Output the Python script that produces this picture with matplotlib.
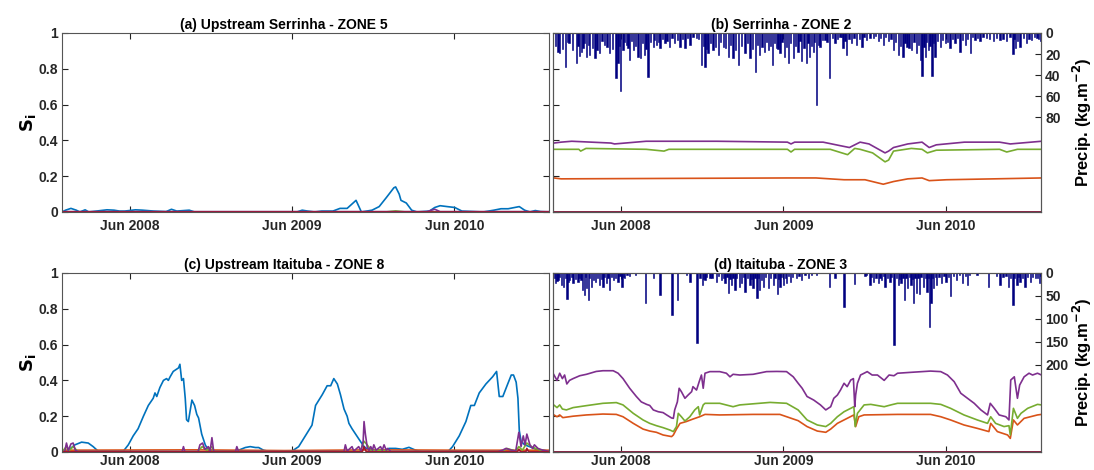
import numpy as np
import matplotlib.pyplot as plt
import matplotlib.dates as mdates

plt.rcParams['font.family'] = ['Liberation Sans', 'DejaVu Sans']
plt.rcParams['font.weight'] = 'bold'
plt.rcParams['font.size'] = 10

## colours (MATLAB default order)
col_blue = '#0072BD'
col_orange = '#D95319'
col_green = '#77AC30'
col_purple = '#7E2F8E'
col_red = '#A2142F'
col_navy = '#000080'

start = np.datetime64('2008-01-01')
end = np.datetime64('2010-12-31')

def d(days):
    return start + np.array(days, dtype='timedelta64[D]')

## x values are days since 2008-01-01

## (a) Upstream Serrinha - ZONE 5
a_blue_days = [0, 8, 20, 32, 40, 52, 60, 101, 117, 129, 141, 165, 181, 206, 234, 246, 258, 286, 298, 318,
               528, 540, 552, 568, 584, 609, 625, 641, 661, 673, 697, 713, 729, 746, 750, 758, 762, 774, 786, 798,
               826, 838, 850, 866, 883, 899, 947, 971, 987, 1003, 1028, 1040, 1052, 1064, 1076, 1096]
a_blue = [0.0, 0.01, 0.02, 0.01, 0.0, 0.012, 0.0, 0.012, 0.01, 0.005, 0.005, 0.012, 0.01, 0.005, 0.002, 0.015, 0.005, 0.01, 0.0, 0.0,
          0.0, 0.01, 0.005, 0.0, 0.005, 0.005, 0.02, 0.02, 0.065, 0.0, 0.01, 0.03, 0.08, 0.135, 0.14, 0.1, 0.065, 0.05, 0.01, 0.0,
          0.005, 0.025, 0.035, 0.03, 0.025, 0.005, 0.0, 0.01, 0.018, 0.018, 0.03, 0.01, 0.0, 0.008, 0.002, 0.0]
a_orange_days = [0, 1096]
a_orange = [0.002, 0.002]
a_green_days = [0, 730, 750, 770, 1096]
a_green = [0.001, 0.001, 0.006, 0.001, 0.001]
a_purple_days = [0, 820, 838, 850, 1096]
a_purple = [0.002, 0.002, 0.015, 0.002, 0.002]
a_red_days = [0, 1096]
a_red = [0.0, 0.0]

## (b) Serrinha - ZONE 2
b_purple_days = [2, 18, 42, 130, 138, 209, 368, 526, 534, 542, 606, 645, 665, 689, 709, 745, 753, 764, 796, 828,
                 836, 844, 860, 923, 1002, 1026, 1096]
b_purple = [0.385, 0.39, 0.395, 0.385, 0.38, 0.395, 0.395, 0.39, 0.38, 0.39, 0.39, 0.37, 0.36, 0.39, 0.38, 0.33, 0.34, 0.36, 0.38, 0.39,
            0.375, 0.36, 0.375, 0.39, 0.39, 0.38, 0.395]
b_green_days = [2, 58, 62, 74, 209, 249, 260, 526, 534, 542, 622, 661, 677, 689, 717, 745, 753, 764, 804, 828,
                840, 860, 1002, 1018, 1042, 1096]
b_green = [0.35, 0.35, 0.34, 0.355, 0.35, 0.34, 0.35, 0.35, 0.335, 0.35, 0.35, 0.32, 0.355, 0.35, 0.33, 0.28, 0.29, 0.34, 0.355, 0.35,
           0.33, 0.345, 0.35, 0.335, 0.35, 0.35]
b_orange_days = [2, 18, 526, 590, 653, 700, 741, 764, 796, 828, 844, 883, 1096]
b_orange = [0.19, 0.185, 0.19, 0.19, 0.18, 0.18, 0.155, 0.17, 0.185, 0.19, 0.175, 0.18, 0.19]
b_blue_days = [0, 1096]
b_blue = [0.002, 0.002]
b_red_days = [0, 1096]
b_red = [0.0, 0.0]

b_rain_days = [11, 15, 28, 36, 52, 60, 67, 75, 79, 82, 94, 105, 116, 127, 141, 146, 152, 157, 165, 172,
               180, 191, 196, 206, 213, 225, 232, 240, 251, 262, 273, 285, 296, 307, 322, 333, 341, 348, 359, 371,
               382, 393, 404, 416, 431, 442, 455, 464, 475, 483, 493, 502, 509, 520, 528, 539, 550, 558, 569, 576,
               584, 591, 599, 610, 621, 633, 644, 651, 659, 670, 681, 693, 704, 719, 730, 741, 752, 764, 775, 785,
               794, 805, 816, 824, 828, 835, 842, 850, 857, 869, 880, 891, 902, 913, 925, 936, 947, 958, 973, 988,
               1003, 1018, 1032, 1037, 1048, 1063, 1074, 1086, 1095]
b_rain = [17.7, 19, 32.6, 10, 28.8, 22, 14.6, 22.5, 11, 21, 24, 19, 11, 19, 43, 28.8, 55, 16, 11, 25.6,
          16, 22.5, 24, 21, 41.5, 13, 11, 14.6, 10, 13, 10, 13, 14.6, 11, 5, 30.4, 32.6, 19, 16, 21,
          13, 22.5, 24, 30.4, 19, 24, 36.7, 21, 17.7, 16, 30.4, 14.6, 19, 22.5, 28.8, 24, 17.7, 27, 28.8, 22.5,
          17.7, 68, 13, 7, 42.4, 10, 3.5, 14.6, 21, 10, 11, 13, 7, 5, 8, 11, 8, 16, 21, 22.5,
          13, 16, 19, 25.6, 40.8, 22.5, 16, 40.8, 22.5, 13, 10, 14.6, 10, 17.7, 11, 19, 7, 8, 5, 8,
          7, 8, 20, 14.6, 13, 10, 7, 5, 8]
# smaller days between the peaks (day, mm)
b_rain_small = [(5, 12), (21, 15), (32, 9), (44, 16), (56, 12), (64, 18), (71, 10), (88, 14), (99, 16), (110, 8),
                (121, 13), (134, 15), (149, 12), (161, 9), (168, 14), (176, 8), (185, 12), (201, 10), (209, 15), (219, 9),
                (228, 7), (236, 9), (245, 6), (256, 8), (267, 5), (279, 7), (290, 6), (301, 5), (314, 4), (327, 6),
                (337, 12), (345, 15), (353, 10), (365, 13), (376, 9), (387, 14), (398, 11), (410, 16), (423, 12), (436, 10),
                (448, 15), (459, 11), (469, 13), (479, 9), (488, 12), (497, 10), (505, 15), (514, 9), (524, 13), (533, 10),
                (544, 12), (554, 8), (563, 14), (572, 10), (580, 12), (587, 9), (595, 11), (604, 7), (615, 9), (627, 5),
                (638, 6), (647, 4), (655, 8), (664, 6), (675, 5), (687, 6), (698, 4), (711, 5), (724, 3), (735, 5),
                (746, 4), (758, 6), (769, 9), (780, 12), (790, 10), (799, 14), (810, 9), (820, 11), (832, 13), (838, 9),
                (846, 12), (853, 10), (863, 8), (874, 7), (885, 9), (896, 6), (907, 5), (919, 7), (930, 6), (941, 4),
                (952, 5), (965, 4), (980, 6), (995, 5), (1010, 6), (1025, 4), (1034, 6), (1042, 8), (1055, 5), (1068, 6),
                (1080, 4), (1090, 6)]

## (c) Upstream Itaituba - ZONE 8
c_blue_days = [0, 14, 29, 44, 59, 70, 81, 138, 149, 160, 171, 183, 194, 205, 209, 213, 220,
               228, 235, 239, 243, 250, 262, 265, 269, 273, 277, 280, 284, 288, 292, 298, 303, 307, 314, 322, 329,
               344, 382, 397, 412, 423, 435, 442, 453, 472, 517, 532, 547, 562, 570, 585, 596, 604, 611, 619,
               626, 634, 641, 645, 652, 660, 668, 679, 690, 713, 728, 735, 750, 765, 780, 795, 810,
               867, 878, 893, 908, 919, 927, 938, 953, 968, 977, 983, 991, 1002, 1010, 1015, 1021, 1025, 1028, 1032, 1040,
               1051, 1066, 1081, 1096]
c_blue = [0.005, 0.01, 0.04, 0.055, 0.05, 0.03, 0.005, 0.005, 0.04, 0.09, 0.13, 0.2, 0.26, 0.3, 0.33, 0.31, 0.36,
          0.4, 0.41, 0.4, 0.42, 0.45, 0.47, 0.49, 0.4, 0.41, 0.3, 0.18, 0.17, 0.23, 0.29, 0.26, 0.21, 0.19, 0.1, 0.04, 0.01,
          0.005, 0.005, 0.01, 0.025, 0.03, 0.025, 0.025, 0.01, 0.0, 0.005, 0.03, 0.09, 0.15, 0.26, 0.32, 0.37, 0.37, 0.41, 0.38,
          0.32, 0.24, 0.2, 0.16, 0.13, 0.1, 0.07, 0.03, 0.01, 0.005, 0.01, 0.02, 0.02, 0.015, 0.026, 0.01, 0.0,
          0.0, 0.03, 0.09, 0.17, 0.26, 0.26, 0.33, 0.38, 0.42, 0.45, 0.31, 0.31, 0.38, 0.43, 0.43, 0.39, 0.3, 0.12, 0.06, 0.04,
          0.03, 0.015, 0.01, 0.005]
c_orange_days = [0, 300, 500, 700, 900, 1096]
c_orange = [0.01, 0.012, 0.008, 0.012, 0.01, 0.01]
c_green_days = [0, 10, 15, 25, 36, 305, 315, 325, 337, 341, 670, 679, 686, 695, 720, 740,
                990, 1000, 1020, 1027, 1035, 1045, 1055, 1065, 1080, 1096]
c_green = [0.002, 0.03, 0.005, 0.03, 0.002, 0.002, 0.03, 0.01, 0.03, 0.002, 0.002, 0.06, 0.04, 0.01, 0.01, 0.002,
           0.002, 0.02, 0.005, 0.03, 0.01, 0.05, 0.03, 0.02, 0.005, 0.002]
c_purple_days = [0, 6, 10, 14, 20, 25, 30, 36, 270, 273, 276, 306, 310, 316, 321, 329, 333, 337, 341,
                 390, 393, 397, 634, 637, 641, 652, 656, 667, 672, 677, 679, 682, 686, 690, 694, 698, 701, 706,
                 716, 720, 724, 729, 732, 739, 980, 990, 998, 1008, 1020, 1027, 1032, 1037, 1041, 1045, 1052,
                 1058, 1062, 1070, 1081, 1096]
c_purple = [0.003, 0.003, 0.05, 0.008, 0.045, 0.05, 0.01, 0.003, 0.003, 0.03, 0.003, 0.003, 0.04, 0.05, 0.015, 0.03, 0.005, 0.08, 0.003,
            0.003, 0.03, 0.003, 0.003, 0.04, 0.005, 0.03, 0.005, 0.03, 0.005, 0.06, 0.17, 0.1, 0.03, 0.01, 0.03, 0.01, 0.04, 0.01,
            0.03, 0.01, 0.04, 0.01, 0.02, 0.003, 0.003, 0.01, 0.02, 0.012, 0.005, 0.11, 0.03, 0.09, 0.04, 0.1, 0.04,
            0.02, 0.04, 0.02, 0.01, 0.003]
c_red_days = [0, 675, 679, 684, 1024, 1027, 1031, 1043, 1045, 1049, 1096]
c_red = [0.001, 0.001, 0.03, 0.001, 0.001, 0.015, 0.001, 0.001, 0.02, 0.001, 0.001]

## (d) Itaituba - ZONE 3
d_purple_days = [0, 9, 15, 21, 26, 31, 37, 45, 60, 75, 97, 112, 135, 146, 157, 172, 187, 198, 210, 217,
                 225, 236, 247, 255, 266, 270, 273, 279, 283, 288, 296, 303, 311, 314, 322, 328, 333, 337, 341, 352,
                 374, 389, 397, 404, 419, 449, 479, 502, 524, 539, 550, 559, 570, 585, 600, 612, 623, 630, 638, 645,
                 653, 660, 668, 674, 677, 679, 683, 690, 698, 705, 716, 728, 743, 754, 765, 773, 803, 847, 870, 885,
                 900, 915, 930, 945, 960, 975, 981, 990, 1001, 1016, 1023, 1027, 1035, 1042, 1047, 1057, 1068, 1076, 1087, 1096]
d_purple = [0.44, 0.40, 0.44, 0.41, 0.43, 0.38, 0.40, 0.41, 0.426, 0.434, 0.45, 0.454, 0.454, 0.44, 0.41, 0.356, 0.31, 0.28, 0.266, 0.26,
            0.235, 0.225, 0.22, 0.207, 0.19, 0.188, 0.235, 0.28, 0.356, 0.337, 0.30, 0.318, 0.337, 0.365, 0.346, 0.393, 0.43, 0.356, 0.44, 0.449,
            0.449, 0.44, 0.42, 0.434, 0.43, 0.434, 0.449, 0.45, 0.449, 0.42, 0.384, 0.356, 0.31, 0.29, 0.263, 0.235, 0.253, 0.30, 0.318, 0.346,
            0.384, 0.365, 0.402, 0.41, 0.253, 0.318, 0.384, 0.43, 0.44, 0.449, 0.43, 0.43, 0.40, 0.43, 0.426, 0.44, 0.445, 0.452, 0.449, 0.43,
            0.393, 0.328, 0.30, 0.272, 0.235, 0.207, 0.272, 0.244, 0.207, 0.197, 0.179, 0.402, 0.42, 0.30, 0.374, 0.42, 0.44, 0.43, 0.44, 0.43]
d_green_days = [0, 9, 15, 21, 30, 45, 75, 112, 142, 157, 180, 202, 217, 232, 247, 262, 270, 277, 281, 288,
                296, 307, 318, 326, 329, 337, 341, 374, 404, 419, 487, 524, 550, 570, 593, 612, 623, 638, 653, 668,
                675, 678, 683, 698, 713, 743, 758, 773, 847, 870, 892, 922, 952, 975, 982, 993, 1012, 1023, 1026, 1033,
                1042, 1050, 1065, 1087, 1096]
d_green = [0.266, 0.248, 0.263, 0.24, 0.235, 0.248, 0.259, 0.272, 0.276, 0.263, 0.216, 0.179, 0.16, 0.147, 0.136, 0.123, 0.114, 0.142, 0.216, 0.197,
           0.173, 0.197, 0.235, 0.253, 0.207, 0.263, 0.272, 0.272, 0.253, 0.263, 0.277, 0.272, 0.235, 0.179, 0.151, 0.142, 0.16, 0.197, 0.225, 0.244,
           0.253, 0.142, 0.216, 0.263, 0.266, 0.253, 0.263, 0.272, 0.272, 0.266, 0.244, 0.207, 0.179, 0.16, 0.197, 0.16, 0.142, 0.147, 0.095, 0.244,
           0.188, 0.216, 0.244, 0.266, 0.263]
d_orange_days = [0, 9, 15, 22, 45, 75, 112, 142, 157, 180, 202, 217, 232, 247, 266, 270, 277, 285, 299, 314,
                 329, 341, 374, 449, 509, 550, 570, 593, 612, 623, 638, 660, 675, 679, 686, 698, 773, 847, 870, 892,
                 922, 952, 978, 982, 997, 1020, 1026, 1033, 1042, 1057, 1087, 1096]
d_orange = [0.21, 0.197, 0.207, 0.192, 0.2, 0.207, 0.212, 0.21, 0.197, 0.16, 0.128, 0.117, 0.11, 0.095, 0.086, 0.095, 0.128, 0.16, 0.17, 0.184,
            0.197, 0.21, 0.207, 0.21, 0.21, 0.175, 0.142, 0.117, 0.11, 0.128, 0.16, 0.188, 0.207, 0.142, 0.197, 0.207, 0.21, 0.21, 0.197, 0.179,
            0.151, 0.132, 0.114, 0.16, 0.114, 0.095, 0.076, 0.179, 0.151, 0.188, 0.207, 0.21]
d_blue_days = [0, 1096]
d_blue = [0.002, 0.002]
d_red_days = [0, 1096]
d_red = [0.0, 0.0]

d_rain_days = [6, 11, 19, 24, 31, 37, 45, 56, 66, 70, 75, 79, 86, 96, 105, 112, 120, 126, 135, 146,
               155, 161, 172, 208, 225, 240, 267, 279, 307, 323, 335, 341, 352, 367, 378, 386, 393, 401, 408, 418,
               423, 431, 442, 449, 458, 464, 472, 483, 494, 503, 509, 517, 524, 533, 547, 558, 573, 591, 621, 633,
               653, 676, 704, 711, 719, 730, 737, 745, 756, 765, 775, 781, 788, 796, 803, 809, 816, 822, 831, 839,
               845, 848, 854, 861, 872, 882, 892, 906, 919, 930, 951, 977, 1003, 1022, 1032, 1041, 1048, 1059, 1071, 1082,
               1092]
d_rain = [22.5, 15, 26, 30, 57, 15, 22.5, 19, 37, 48, 33, 59, 30, 19, 26, 30, 22.5, 38, 15, 19,
          30, 12, 6.5, 66, 12, 48, 91, 59, 19, 152, 26, 15, 12, 19, 15, 22.5, 43, 26, 37, 30,
          22.5, 41, 26, 33, 55, 37, 30, 33, 26, 46, 30, 26, 22.5, 19, 12, 15, 12, 4, 30, 12,
          75, 24, 4, 26, 19, 22.5, 15, 30, 19, 157, 26, 22.5, 59, 33, 26, 66, 44, 46, 30, 41,
          118, 66, 33, 26, 22.5, 19, 50, 15, 22.5, 26, 4, 30, 26, 30, 70, 26, 19, 30, 19, 12,
          22.5]
d_rain_small = [(3, 10), (9, 18), (15, 8), (28, 12), (34, 20), (41, 9), (50, 14), (60, 10), (63, 16), (73, 8),
                (82, 12), (91, 15), (100, 10), (109, 14), (116, 8), (123, 12), (131, 9), (140, 11), (150, 7), (158, 9),
                (166, 5), (185, 4), (300, 5), (330, 10), (338, 14), (345, 8), (357, 10), (372, 7), (382, 12), (390, 9),
                (397, 14), (404, 10), (412, 12), (427, 9), (436, 11), (446, 14), (453, 10), (461, 12), (468, 15), (477, 9),
                (488, 12), (498, 10), (506, 14), (513, 8), (521, 10), (529, 7), (538, 9), (552, 6), (565, 5), (580, 4),
                (700, 6), (715, 8), (725, 10), (734, 12), (741, 7), (751, 11), (760, 9), (770, 12), (778, 14), (785, 10),
                (792, 12), (800, 9), (806, 14), (812, 10), (819, 12), (826, 8), (835, 11), (843, 10), (851, 12), (858, 8),
                (866, 9), (877, 7), (887, 8), (898, 6), (912, 5), (925, 7), (935, 4), (995, 6), (1010, 9), (1016, 7),
                (1027, 10), (1036, 12), (1044, 8), (1053, 11), (1065, 9), (1076, 8), (1087, 10), (1095, 7)]

jun_days = [152, 517, 882]
si_ticks = [0, 0.2, 0.4, 0.6, 0.8, 1]
si_labels = ['0', '0.2', '0.4', '0.6', '0.8', '1']
edge = '#555555'


def style(ax, title, title_x, left_labels=True, xpad=5):
    ax.set_xlim(start, end)
    ax.set_ylim(0, 1)
    ax.set_xticks(d(jun_days))
    ax.xaxis.set_major_formatter(mdates.DateFormatter('%b %Y'))
    ax.set_yticks(si_ticks)
    if left_labels:
        ax.set_yticklabels(si_labels)
        ax.set_ylabel(r'$\mathbf{S_i}$', fontsize=13, labelpad=0)
    else:
        ax.set_yticklabels([])
    ax.tick_params(direction='in', top=True, right=True, length=4, width=0.8, color='#222222',
                   labelcolor='#262626', labelsize=10, pad=3)
    ax.tick_params(axis='x', pad=xpad)
    for s in ax.spines.values():
        s.set_color(edge)
        s.set_linewidth(0.8)
    ax.set_title(title, fontsize=10, fontweight='bold', pad=3, x=title_x)


def draw_lines(ax, series):
    for days, vals, col in series:
        ax.plot(d(days), vals, color=col, lw=1.2)


def rain_axis(ax, days, vals, small, top, ticks):
    ax2 = ax.twinx()
    sm_days = [p[0] for p in small]
    sm_vals = [p[1] for p in small]
    ax2.bar(d(sm_days), sm_vals, width=3, color=col_navy, edgecolor=col_navy, linewidth=0.4)
    ax2.bar(d(days), vals, width=3, color=col_navy, edgecolor=col_navy, linewidth=0.4)
    ax2.set_ylim(top, 0)
    ax2.set_xlim(start, end)
    ax2.set_yticks(ticks)
    ax2.tick_params(direction='in', length=4, width=0.8, color='#222222', labelcolor='#262626',
                    labelsize=10, pad=3)
    for s in ax2.spines.values():
        s.set_color(edge)
        s.set_linewidth(0.8)
    ax2.set_ylabel(r'Precip. (kg.m$^{\mathbf{-2}}$)', fontsize=12, fontweight='bold')
    ax2.yaxis.set_label_coords(1.062, 0.5)
    return ax2


fig = plt.figure(figsize=(10.94, 4.70), dpi=100)

ax_a = fig.add_axes([0.0567, 0.549, 0.4452, 0.3809])
draw_lines(ax_a, [(a_blue_days, a_blue, col_blue), (a_orange_days, a_orange, col_orange),
                  (a_green_days, a_green, col_green), (a_purple_days, a_purple, col_purple),
                  (a_red_days, a_red, col_red)])
style(ax_a, '(a) Upstream Serrinha - ZONE 5', 0.455)

ax_b = fig.add_axes([0.5055, 0.549, 0.4461, 0.3809])
draw_lines(ax_b, [(b_blue_days, b_blue, col_blue), (b_orange_days, b_orange, col_orange),
                  (b_green_days, b_green, col_green), (b_purple_days, b_purple, col_purple),
                  (b_red_days, b_red, col_red)])
style(ax_b, '(b) Serrinha - ZONE 2', 0.467, left_labels=False)
rain_axis(ax_b, b_rain_days, b_rain, b_rain_small, 170, [0, 20, 40, 60, 80])

ax_c = fig.add_axes([0.0567, 0.0383, 0.4452, 0.3809])
draw_lines(ax_c, [(c_blue_days, c_blue, col_blue), (c_orange_days, c_orange, col_orange),
                  (c_green_days, c_green, col_green), (c_purple_days, c_purple, col_purple),
                  (c_red_days, c_red, col_red)])
style(ax_c, '(c) Upstream Itaituba - ZONE 8', 0.455, xpad=1.5)

ax_d = fig.add_axes([0.5055, 0.0383, 0.4461, 0.3809])
draw_lines(ax_d, [(d_blue_days, d_blue, col_blue), (d_orange_days, d_orange, col_orange),
                  (d_green_days, d_green, col_green), (d_purple_days, d_purple, col_purple),
                  (d_red_days, d_red, col_red)])
style(ax_d, '(d) Itaituba - ZONE 3', 0.467, left_labels=False, xpad=1.5)
rain_axis(ax_d, d_rain_days, d_rain, d_rain_small, 390, [0, 50, 100, 150, 200])

plt.savefig('out.png', dpi=100)
